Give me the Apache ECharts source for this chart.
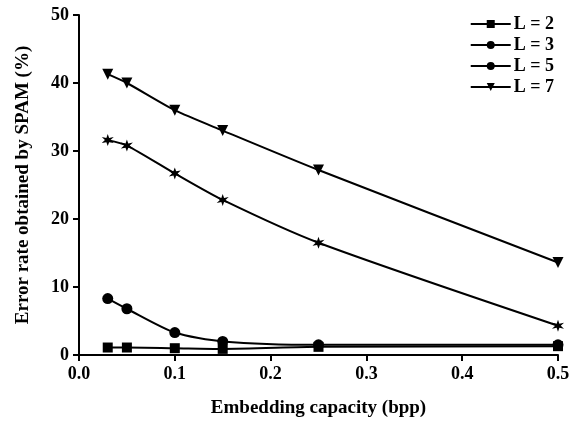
<!DOCTYPE html>
<html><head><meta charset="utf-8">
<script src="https://cdn.jsdelivr.net/npm/echarts@6/dist/echarts.min.js"></script>
<style>html,body{margin:0;padding:0;background:#fff}#c{width:575px;height:423px}</style>
</head><body><div id="c"></div>
<script>
var xValues = [0.03, 0.05, 0.1, 0.15, 0.25, 0.5];
var seriesNames = ['L = 2', 'L = 3', 'L = 5', 'L = 7'];
var l2 = [1.1, 1.1, 1.0, 0.9, 1.2, 1.3];
var l3 = [8.3, 6.8, 3.3, 2.0, 1.5, 1.5];
var l5 = [31.6, 30.8, 26.7, 22.8, 16.5, 4.3];
var l7 = [41.3, 40.0, 36.0, 33.0, 27.2, 13.6];
var xTicks = ['0.0', '0.1', '0.2', '0.3', '0.4', '0.5'];
var yTicks = ['0', '10', '20', '30', '40', '50'];

function starPath(n, r0, r1) {
  var p = [];
  for (var i = 0; i < 2 * n; i++) {
    var a = Math.PI * i / n - Math.PI / 2;
    var r = i % 2 === 0 ? r0 : r1;
    p.push((i ? 'L' : 'M') + (r * Math.cos(a)).toFixed(3) + ',' + (r * Math.sin(a)).toFixed(3));
  }
  return 'path://' + p.join(' ') + ' Z';
}
var asterisk = starPath(6, 10, 4);

function pairs(v, sym) {
  return xValues.map(function (x, i) {
    return sym ? { value: [x, v[i]], symbol: sym } : [x, v[i]];
  });
}
var font = '"Liberation Serif", "Times New Roman", serif';

function mk(name, data, symbol, size, rotate, itemSym) {
  return {
    name: name, type: 'line', data: pairs(data, itemSym), smooth: 0.25,
    symbol: symbol, symbolSize: size, symbolRotate: rotate || 0,
    lineStyle: { color: '#000', width: 2 },
    itemStyle: { color: '#000' }, showAllSymbol: true
  };
}

var chart = echarts.init(document.getElementById('c'), null, { renderer: 'canvas' });
chart.setOption({
  animation: false,
  backgroundColor: '#fff',
  grid: { left: 79, right: 17, top: 15, bottom: 67, containLabel: false },
  legend: {
    orient: 'vertical', right: 16, top: 10, itemGap: 3, itemWidth: 40, itemHeight: 10,
    textStyle: { fontFamily: font, fontWeight: 'bold', fontSize: 18, color: '#000', padding: [0, 0, 0, -2] },
    data: seriesNames
  },
  xAxis: {
    type: 'value', min: 0, max: 0.5, interval: 0.1,
    name: 'Embedding capacity (bpp)', nameLocation: 'middle', nameGap: 44,
    nameTextStyle: { fontFamily: font, fontWeight: 'bold', fontSize: 19, color: '#000' },
    axisLine: { lineStyle: { color: '#000', width: 2 } },
    axisTick: { show: true, length: 6, lineStyle: { color: '#000', width: 2 } },
    axisLabel: { fontFamily: font, fontWeight: 'bold', fontSize: 18, color: '#000', margin: 10,
      formatter: function (v) { return xTicks[Math.round(v * 10)]; } },
    splitLine: { show: false }
  },
  yAxis: {
    type: 'value', min: 0, max: 50, interval: 10,
    name: 'Error rate obtained by SPAM (%)', nameLocation: 'middle', nameGap: 46, nameRotate: 90,
    nameTextStyle: { fontFamily: font, fontWeight: 'bold', fontSize: 19, color: '#000' },
    axisLine: { show: true, lineStyle: { color: '#000', width: 2 } },
    axisTick: { show: true, length: 6, lineStyle: { color: '#000', width: 2 } },
    axisLabel: { fontFamily: font, fontWeight: 'bold', fontSize: 18, color: '#000', margin: 10,
      formatter: function (v) { return yTicks[Math.round(v / 10)]; } },
    splitLine: { show: false }
  },
  series: [
    mk('L = 2', l2, 'rect', 10),
    mk('L = 3', l3, 'circle', 11),
    mk('L = 5', l5, 'circle', 12, 0, asterisk),
    mk('L = 7', l7, 'triangle', 11, 180)
  ]
});
</script></body></html>
